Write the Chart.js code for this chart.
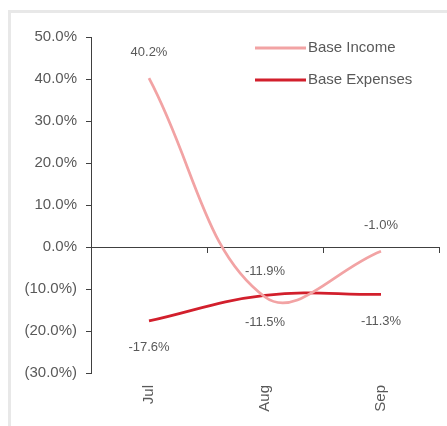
<!DOCTYPE html>
<html>
<head>
<meta charset="utf-8">
<script src="https://cdn.jsdelivr.net/npm/chart.js@4/dist/chart.umd.min.js"></script>
<style>
  html, body { margin: 0; padding: 0; background: #fff; }
  #frame {
    position: absolute; left: 8px; top: 10px; width: 439px; height: 416px;
    border-left: 3px solid #e8e8e8; border-top: 3px solid #e8e8e8; box-sizing: border-box;
  }
  #chart { position: absolute; left: 0; top: 0; }
</style>
</head>
<body>
<div id="frame"></div>
<canvas id="chart" width="447" height="426"></canvas>
<script>
// Chart data
const months = ["Jul", "Aug", "Sep"];
const baseIncome = [40.2, -11.9, -1.0];
const baseExpenses = [-17.6, -11.5, -11.3];
const yTicks = { min: -30, max: 50, step: 10 };

const textColor = "#595959";
const fontFamily = "'Liberation Sans', Arial, sans-serif";

function fmtAxis(v) {
  return v < 0 ? "(" + Math.abs(v).toFixed(1) + "%)" : v.toFixed(1) + "%";
}

// Value labels next to each point
const valueLabels = {
  id: "valueLabels",
  afterDatasetsDraw(chart) {
    const ctx = chart.ctx;
    ctx.save();
    ctx.font = "13px " + fontFamily;
    ctx.fillStyle = textColor;
    ctx.textAlign = "center";
    ctx.textBaseline = "middle";
    chart.data.datasets.forEach((ds, i) => {
      const meta = chart.getDatasetMeta(i);
      meta.data.forEach((pt, j) => {
        const dy = ds.labelSide === "above" ? -26 : 27;
        ctx.fillText(ds.data[j].toFixed(1) + "%", pt.x, pt.y + dy);
      });
    });
    ctx.restore();
  }
};

// Legend in the top right corner
const cornerLegend = {
  id: "cornerLegend",
  afterDraw(chart) {
    const ctx = chart.ctx;
    ctx.save();
    ctx.font = "15px " + fontFamily;
    ctx.textBaseline = "middle";
    chart.data.datasets.forEach((ds, i) => {
      const y = 48 + i * 32;
      ctx.strokeStyle = ds.borderColor;
      ctx.lineWidth = 3;
      ctx.beginPath();
      ctx.moveTo(255, y);
      ctx.lineTo(306, y);
      ctx.stroke();
      ctx.fillStyle = textColor;
      ctx.fillText(ds.label, 308, y);
    });
    ctx.restore();
  }
};

new Chart(document.getElementById("chart"), {
  type: "line",
  data: {
    labels: months,
    datasets: [
      {
        label: "Base Income",
        data: baseIncome,
        borderColor: "#f2a3a4",
        borderWidth: 2.75,
        tension: 0.4,
        pointRadius: 0,
        labelSide: "above"
      },
      {
        label: "Base Expenses",
        data: baseExpenses,
        borderColor: "#d21f2c",
        borderWidth: 2.75,
        tension: 0.4,
        pointRadius: 0,
        labelSide: "below"
      }
    ]
  },
  options: {
    responsive: false,
    devicePixelRatio: 1,
    animation: false,
    layout: { padding: { top: 37, right: 8, bottom: 0, left: 0 } },
    plugins: { legend: { display: false }, tooltip: { enabled: false } },
    scales: {
      x: {
        type: "category",
        position: { y: 0 },
        offset: true,
        grid: { offset: true, drawOnChartArea: false, tickLength: 5, color: "#404040" },
        border: { color: "#404040" },
        ticks: { display: false }
      },
      x2: {
        type: "category",
        axis: "x",
        position: "bottom",
        offset: true,
        grid: { display: false, drawTicks: false },
        border: { display: false },
        ticks: {
          minRotation: 90, maxRotation: 90, padding: 12,
          color: textColor, font: { size: 15, family: fontFamily }
        },
        afterFit(scale) { scale.height = 53; }
      },
      y: {
        min: yTicks.min,
        max: yTicks.max,
        grid: { drawOnChartArea: false, tickLength: 5, color: "#404040" },
        border: { color: "#404040" },
        ticks: {
          stepSize: yTicks.step, padding: 9,
          color: textColor, font: { size: 15, family: fontFamily },
          callback: v => fmtAxis(v)
        },
        afterFit(scale) { scale.width = 91; }
      }
    }
  },
  plugins: [valueLabels, cornerLegend]
});
</script>
</body>
</html>
